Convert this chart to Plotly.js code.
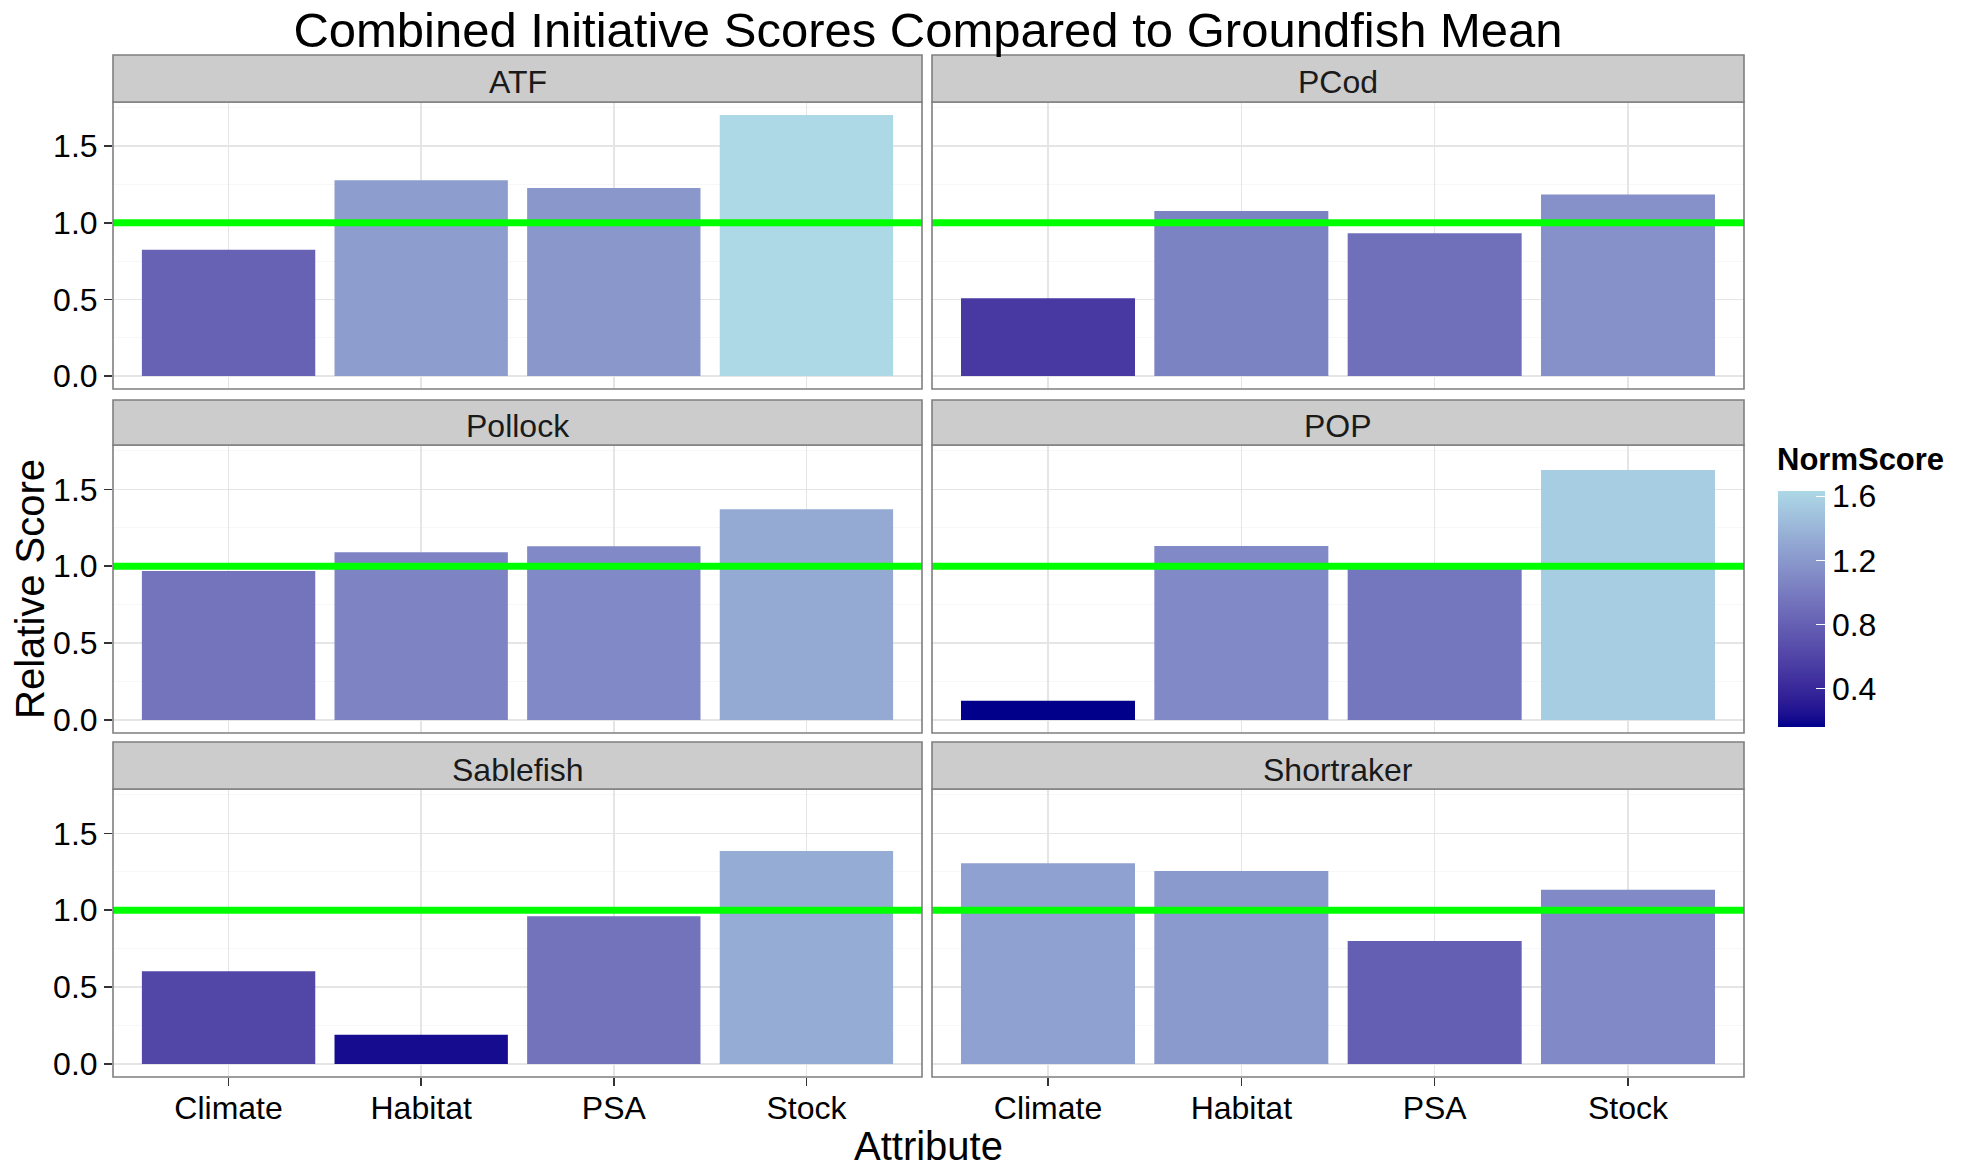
<!DOCTYPE html>
<html>
<head>
<meta charset="utf-8">
<script src="https://cdn.plot.ly/plotly-3.0.1.min.js"></script>
<style>
  html, body { margin: 0; padding: 0; background: #ffffff; }
  #chart { width: 1973px; height: 1167px; }
</style>
</head>
<body>
<div id="chart"></div>
<script>
// ---------------- data ----------------
const categories = ['Climate', 'Habitat', 'PSA', 'Stock'];
const species = ['ATF', 'PCod', 'Pollock', 'POP', 'Sablefish', 'Shortraker'];

// Relative score (bar heights)
const relATF        = [0.824, 1.278, 1.226, 1.703];
const relPCod       = [0.507, 1.077, 0.932, 1.185];
const relPollock    = [0.968, 1.090, 1.129, 1.371];
const relPOP        = [0.124, 1.131, 0.990, 1.626];
const relSablefish  = [0.603, 0.190, 0.960, 1.385];
const relShortraker = [1.305, 1.254, 0.800, 1.133];

// NormScore (bar fill)
const normATF        = [0.813, 1.236, 1.188, 1.633];
const normPCod       = [0.517, 1.049, 0.914, 1.150];
const normPollock    = [0.947, 1.061, 1.097, 1.323];
const normPOP        = [0.160, 1.099, 0.968, 1.561];
const normSablefish  = [0.607, 0.221, 0.940, 1.336];
const normShortraker = [1.262, 1.214, 0.790, 1.101];

const colorTicks = [0.4, 0.8, 1.2, 1.6];
const meanLine = 1.0;

const relScores = [relATF, relPCod, relPollock, relPOP, relSablefish, relShortraker];
const normScores = [normATF, normPCod, normPollock, normPOP, normSablefish, normShortraker];

// ---------------- colour scale (Lab interpolation like ggplot) ----------------
function hexToRgb(h) { return [parseInt(h.substr(1,2),16), parseInt(h.substr(3,2),16), parseInt(h.substr(5,2),16)]; }
function lin(c) { c /= 255; return c <= 0.04045 ? c / 12.92 : Math.pow((c + 0.055) / 1.055, 2.4); }
function unlin(c) { const v = c <= 0.0031308 ? 12.92 * c : 1.055 * Math.pow(c, 1/2.4) - 0.055; return Math.max(0, Math.min(255, Math.round(v * 255))); }
const Xn = 0.95047, Yn = 1.0, Zn = 1.08883;
function f(t) { return t > 0.008856 ? Math.cbrt(t) : 7.787 * t + 16/116; }
function finv(t) { return t > 0.206893 ? t*t*t : (t - 16/116) / 7.787; }
function rgbToLab(rgb) {
  const r = lin(rgb[0]), g = lin(rgb[1]), b = lin(rgb[2]);
  const X = 0.4124*r + 0.3576*g + 0.1805*b;
  const Y = 0.2126*r + 0.7152*g + 0.0722*b;
  const Z = 0.0193*r + 0.1192*g + 0.9505*b;
  const fx = f(X/Xn), fy = f(Y/Yn), fz = f(Z/Zn);
  return [116*fy - 16, 500*(fx - fy), 200*(fy - fz)];
}
function labToRgb(lab) {
  const fy = (lab[0] + 16) / 116, fx = fy + lab[1]/500, fz = fy - lab[2]/200;
  const X = Xn*finv(fx), Y = Yn*finv(fy), Z = Zn*finv(fz);
  const r =  3.2406*X - 1.5372*Y - 0.4986*Z;
  const g = -0.9689*X + 1.8758*Y + 0.0415*Z;
  const b =  0.0557*X - 0.2040*Y + 1.0570*Z;
  return 'rgb(' + unlin(r) + ',' + unlin(g) + ',' + unlin(b) + ')';
}
const lowLab = rgbToLab(hexToRgb('#00008B'));
const highLab = rgbToLab(hexToRgb('#ADD8E6'));
const colorscale = [];
for (let i = 0; i <= 20; i++) {
  const t = i / 20;
  colorscale.push([t, labToRgb([0,1,2].map(k => lowLab[k] + (highLab[k] - lowLab[k]) * t))]);
}
const allNorm = normScores.flat();
const cmin = Math.min(...allNorm), cmax = Math.max(...allNorm);
const yMax = Math.max(...relScores.flat());
const yRange = [-0.05 * yMax, 1.05 * yMax];

// ---------------- layout geometry (pixels) ----------------
const W = 1973, H = 1167;
const colPx = [[113, 922], [932, 1744]];
const plotRowPx = [[102, 389], [445, 733], [789, 1077]];
const stripRowPx = [[55, 102], [400, 445], [742, 789]];
const px = x => x / W;
const py = y => 1 - y / H;

const FONT = 'Liberation Sans, Arial, sans-serif';
const traces = [];
const shapes = [];
const annotations = [];
const layout = {
  width: W, height: H,
  margin: {l: 0, r: 0, t: 0, b: 0},
  paper_bgcolor: '#ffffff',
  plot_bgcolor: '#ffffff',
  showlegend: false,
  bargap: 0.1,
  font: {family: FONT, color: '#000000', size: 32},
  title: {
    text: 'Combined Initiative Scores Compared to Groundfish Mean',
    x: px(928), y: py(30), xanchor: 'center', yanchor: 'middle',
    xref: 'paper', yref: 'paper',
    font: {family: FONT, size: 49, color: '#000000'}
  }
};

species.forEach((sp, i) => {
  const r = Math.floor(i / 2), c = i % 2;
  const n = i + 1;
  const xa = 'x' + (n === 1 ? '' : n), ya = 'y' + (n === 1 ? '' : n);
  const xKey = 'xaxis' + (n === 1 ? '' : n), yKey = 'yaxis' + (n === 1 ? '' : n);
  const bottomRow = r === 2, leftCol = c === 0;

  traces.push({
    type: 'bar', x: categories, y: relScores[i], xaxis: xa, yaxis: ya,
    marker: {
      color: normScores[i], colorscale: colorscale, cmin: cmin, cmax: cmax,
      line: {width: 0},
      showscale: i === 0,
      colorbar: {
        x: px(1778), xanchor: 'left', xref: 'paper',
        y: py(727), yanchor: 'bottom', yref: 'paper',
        len: 236, lenmode: 'pixels', thickness: 47, thicknessmode: 'pixels',
        outlinewidth: 0, xpad: 0, ypad: 0,
        tickvals: colorTicks, ticktext: colorTicks.map(v => v.toFixed(1)),
        ticks: 'inside', ticklen: 9, tickcolor: '#ffffff', tickwidth: 1.5,
        tickfont: {family: FONT, size: 32, color: '#000000'}
      }
    },
    hoverinfo: 'x+y'
  });

  layout[xKey] = {
    domain: [px(colPx[c][0]), px(colPx[c][1])],
    anchor: ya, type: 'category', categoryorder: 'array', categoryarray: categories,
    range: [-0.6, 3.6],
    showgrid: true, gridcolor: '#E5E5E5', gridwidth: 1.5,
    zeroline: false, showline: false,
    showticklabels: bottomRow,
    ticks: bottomRow ? 'outside' : '', ticklen: 8, tickwidth: 1.5, tickcolor: '#333333',
    ticklabelstandoff: -5,
    tickfont: {family: FONT, size: 32, color: '#000000'},
    fixedrange: true
  };
  layout[yKey] = {
    domain: [py(plotRowPx[r][1]), py(plotRowPx[r][0])],
    anchor: xa, range: yRange,
    tick0: 0, dtick: 0.5, tickformat: '.1f',
    showgrid: true, gridcolor: '#E5E5E5', gridwidth: 1.5,
    minor: {dtick: 0.25, showgrid: true, gridcolor: '#F7F7F7', gridwidth: 1},
    zeroline: false, showline: false,
    showticklabels: leftCol,
    ticks: leftCol ? 'outside' : '', ticklen: 8, tickwidth: 1.5, tickcolor: '#333333',
    tickfont: {family: FONT, size: 32, color: '#000000'},
    fixedrange: true
  };

  // mean line
  shapes.push({
    type: 'line', xref: xa + ' domain', yref: ya,
    x0: 0, x1: 1, y0: meanLine, y1: meanLine,
    line: {color: '#00FF00', width: 7}, layer: 'above'
  });
  // panel border
  shapes.push({
    type: 'rect', xref: 'paper', yref: 'paper',
    x0: px(colPx[c][0]), x1: px(colPx[c][1]),
    y0: py(plotRowPx[r][1]), y1: py(plotRowPx[r][0]),
    line: {color: '#7F7F7F', width: 1.6}, fillcolor: 'rgba(0,0,0,0)', layer: 'above'
  });
  // strip
  shapes.push({
    type: 'rect', xref: 'paper', yref: 'paper',
    x0: px(colPx[c][0]), x1: px(colPx[c][1]),
    y0: py(stripRowPx[r][1]), y1: py(stripRowPx[r][0]),
    line: {color: '#7F7F7F', width: 1.6}, fillcolor: '#CCCCCC', layer: 'above'
  });
  annotations.push({
    text: sp, xref: 'paper', yref: 'paper',
    x: px((colPx[c][0] + colPx[c][1]) / 2), y: py((stripRowPx[r][0] + stripRowPx[r][1]) / 2 + 4),
    xanchor: 'center', yanchor: 'middle', showarrow: false,
    font: {family: FONT, size: 32, color: '#1a1a1a'}
  });
});

// colour bar title
annotations.push({
  text: '<b>NormScore</b>', xref: 'paper', yref: 'paper',
  x: px(1776), y: py(478), xanchor: 'left', yanchor: 'bottom', showarrow: false,
  borderpad: 0,
  font: {family: FONT, size: 31, color: '#000000'}
});

// axis titles
annotations.push({
  text: 'Attribute', xref: 'paper', yref: 'paper',
  x: px(928), y: py(1146), xanchor: 'center', yanchor: 'middle', showarrow: false,
  font: {family: FONT, size: 40, color: '#000000'}
});
annotations.push({
  text: 'Relative Score', xref: 'paper', yref: 'paper', textangle: -90,
  x: px(30), y: py(589), xanchor: 'center', yanchor: 'middle', showarrow: false,
  font: {family: FONT, size: 40, color: '#000000'}
});

layout.shapes = shapes;
layout.annotations = annotations;

Plotly.newPlot('chart', traces, layout, {displayModeBar: false, staticPlot: true});
</script>
</body>
</html>
